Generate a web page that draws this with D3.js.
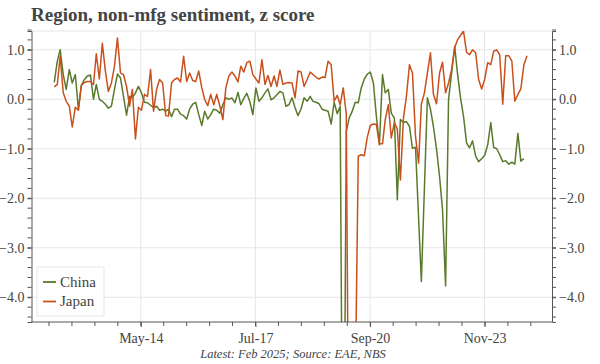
<!DOCTYPE html>
<html>
<head>
<meta charset="utf-8">
<script src="https://cdn.jsdelivr.net/npm/d3@7"></script>
<style>
  html, body { margin: 0; padding: 0; background: #fff; }
  svg { display: block; }
</style>
</head>
<body>
<svg id="chart" width="600" height="364"></svg>
<script>
// ---- data ----
const seriesNames = ["China", "Japan"];
const firstMonth = "2012-01-01";
const lastMonth = "2025-02-01";
const chinaValues = [
  0.34, 0.77, 1.0, 0.5, 0.2, 0.6, 0.33, 0.5, -0.2, 0.28,
  0.4, 0.47, 0.49, 0.0, 0.3, 0.0, -0.04, -0.1, -0.18, -0.14,
  0.2, 0.51, 0.43, 0.06, -0.32, 0.06, 0.03, 0.13, 0.26, 0.13,
  -0.06, -0.07, -0.12, -0.17, -0.14, -0.22, -0.2, -0.24, -0.2, -0.35,
  -0.2, -0.2, -0.3, -0.33, -0.4, -0.2, -0.1, -0.06, -0.31, -0.53,
  -0.24, -0.4, -0.31, -0.2, -0.22, -0.28, -0.11, 0.03, 0.0, 0.03,
  -0.07, 0.14, -0.11, 0.02, 0.12, -0.05, -0.31, 0.23, -0.04, 0.03,
  0.13, 0.21, -0.01, 0.03, 0.09, 0.16, 0.13, -0.14, -0.11, 0.03,
  -0.17, -0.33, -0.19, 0.03, -0.04, 0.06, -0.04, -0.06, -0.09, -0.2,
  -0.22, -0.24, -0.5, -0.06, -0.29, -0.14, -10.0, -0.65, -0.38, -0.24,
  -0.06, -0.07, 0.23, 0.41, 0.51, 0.55, 0.33, -0.34, -0.92, 0.5,
  0.13, 0.2, -0.28, -0.38, -2.03, -0.41, -0.47, -0.45, -0.55, -0.99,
  -0.97, null, -3.68, null, 0.03, -0.2, -0.55, -1.0, -1.56, -2.23,
  -3.77, 0.0, 0.53, 1.07, 0.53, 0.03, -0.34, -0.88, -0.98, -0.84,
  -1.15, -1.26, -1.2, -1.13, -0.92, -0.47, -0.97, -1.0, -1.12, -1.26,
  -1.24, -1.31, -1.27, -1.31, -0.69, -1.25, -1.2
];
const japanValues = [
  0.25, 0.3, 0.87, 0.13, -0.04, -0.14, -0.56, -0.16, -0.22, 0.28,
  0.34, 0.36, 0.36, 0.3, 0.92, 0.41, 1.13, 0.57, 0.16, 0.33,
  0.67, 1.24, 0.53, 0.5, 0.26, -0.14, 0.2, -0.8, -0.16, -0.22,
  0.1, 0.06, 0.6, -0.24, 0.2, 0.4, 0.33, -0.33, -0.34, 0.33,
  0.4, 0.43, 0.35, 0.87, 0.36, 0.53, 0.38, 0.36, 0.57, 0.23,
  0.0, -0.13, 0.1, -0.11, 0.1, -0.13, -0.41, 0.23, 0.47, 0.55,
  0.47, 0.35, 0.67, 0.55, 0.74, 0.77, 0.5, 0.41, 0.33, 0.8,
  0.3, 0.48, 0.26, 0.47, 0.26, 0.59, 0.3, 0.33, 0.34, 0.33,
  0.03, 0.57, 0.55, 0.26, 0.4, 0.55, 0.5, 0.45, 0.41, 0.45,
  0.44, 0.77, 0.7, -0.04, 0.08, -0.11, 0.23, -0.3, -9.0, -9.0,
  -6.0, -1.15, -1.12, -1.14, -0.76, -0.53, -0.5, -0.51, -0.9, -0.9,
  -0.41, -0.11, -0.78, -0.47, -0.6, -1.63, -0.38, 0.06, 0.7, 0.53,
  -0.75, -1.29, -0.1, 0.13, 0.53, 0.94, 0.1, -0.09, 0.53, 0.75,
  0.13, 0.33, 0.6, 1.04, 1.2, 1.29, 1.38, 0.95, 0.9, 1.0,
  0.94, 0.4, 0.21, 0.4, 0.74, 0.7, 0.97, 1.0, 0.9, -0.1,
  0.88, 0.88, 0.77, -0.04, 0.1, 0.21, 0.7, 0.88
];
const seriesColors = ["#5a7a2b", "#c9501c"];
const yTickValues = [1, 0, -1, -2, -3, -4];
const xTickDates = ["2014-05-25", "2017-07-27", "2020-09-28", "2023-11-30"];
const xTickLabels = ["May-14", "Jul-17", "Sep-20", "Nov-23"];
const titleText = "Region, non-mfg sentiment, z score";
const footerText = "Latest: Feb 2025; Source: EAE, NBS";

// ---- layout ----
const W = 600, H = 364;
const plot = { left: 31.5, right: 552, top: 31, bottom: 322 };
const parse = d3.utcParse("%Y-%m-%d");
const months = d3.utcMonth.range(parse(firstMonth), d3.utcMonth.offset(parse(lastMonth), 1));

const x = d3.scaleUtc()
  .domain([parse("2011-05-16"), parse("2025-10-12")])
  .range([plot.left, plot.right]);
const y = d3.scaleLinear().domain([-4.5, 1.38]).range([plot.bottom, plot.top]);

const svg = d3.select("#chart");
const serif = "'Liberation Serif', 'DejaVu Serif', serif";
const axisColor = "#555";
const gridColor = "#e6e6e6";

svg.append("text")
  .attr("x", 31).attr("y", 21)
  .attr("font-family", serif).attr("font-weight", "bold")
  .attr("font-size", 19).attr("fill", "#444")
  .text(titleText);

// clip
svg.append("clipPath").attr("id", "clip")
  .append("rect")
  .attr("x", plot.left).attr("y", plot.top)
  .attr("width", plot.right - plot.left).attr("height", plot.bottom - plot.top);

// grid
const grid = svg.append("g");
grid.selectAll(".hg").data(yTickValues).join("line")
  .attr("x1", plot.left).attr("x2", plot.right)
  .attr("y1", d => y(d)).attr("y2", d => y(d))
  .attr("stroke", gridColor).attr("stroke-width", 1);
grid.selectAll(".vg").data(xTickDates).join("line")
  .attr("x1", d => x(parse(d))).attr("x2", d => x(parse(d)))
  .attr("y1", plot.top).attr("y2", plot.bottom)
  .attr("stroke", gridColor).attr("stroke-width", 1);
grid.append("line")
  .attr("x1", plot.left).attr("x2", plot.right)
  .attr("y1", plot.top).attr("y2", plot.top)
  .attr("stroke", gridColor);

// lines
const series = [chinaValues, japanValues].map((vals, i) => ({
  name: seriesNames[i],
  color: seriesColors[i],
  points: months.map((m, j) => ({ date: m, value: vals[j] })).filter(p => p.value !== null && p.value !== undefined)
}));
const line = d3.line().x(d => x(d.date)).y(d => y(d.value));
const lines = svg.append("g").attr("clip-path", "url(#clip)");
lines.selectAll("path").data(series).join("path")
  .attr("d", d => line(d.points))
  .attr("fill", "none")
  .attr("stroke", d => d.color)
  .attr("stroke-width", 1.5)
  .attr("stroke-linejoin", "round");

// minor tick values
const yMinor = d3.range(-4.4, 1.41, 0.2).map(v => Math.round(v * 10) / 10);
const step = 232;
const xMinor = [];
{
  const first = parse(xTickDates[0]);
  for (let k = -6; k <= 30; k++) {
    const dt = d3.utcDay.offset(first, k * step);
    if (dt >= x.domain()[0] && dt <= x.domain()[1]) xMinor.push(dt);
  }
}

// axes
const yLeft = d3.axisLeft(y).tickValues(yTickValues).tickFormat(d3.format(".1f")).tickSize(4).tickPadding(3);
const gl = svg.append("g").attr("transform", `translate(${plot.left},0)`).call(yLeft);
gl.append("g").selectAll("line").data(yMinor).join("line")
  .attr("x1", -4).attr("x2", 0).attr("y1", d => y(d)).attr("y2", d => y(d)).attr("stroke", axisColor);

const yRight = d3.axisRight(y).tickValues(yTickValues).tickFormat(d3.format(".1f")).tickSize(4).tickPadding(3);
const gr = svg.append("g").attr("transform", `translate(${plot.right},0)`).call(yRight);
gr.append("g").selectAll("line").data(yMinor).join("line")
  .attr("x1", 0).attr("x2", 4).attr("y1", d => y(d)).attr("y2", d => y(d)).attr("stroke", axisColor);

const xAxis = d3.axisBottom(x).tickValues(xTickDates.map(parse))
  .tickFormat((d, i) => xTickLabels[i]).tickSize(5).tickPadding(6);
const gx = svg.append("g").attr("transform", `translate(0,${plot.bottom})`).call(xAxis);
gx.append("g").selectAll("line").data(xMinor).join("line")
  .attr("x1", d => x(d)).attr("x2", d => x(d)).attr("y1", 0).attr("y2", 4).attr("stroke", axisColor);

[gl, gr, gx].forEach(g => {
  g.selectAll(".domain").attr("stroke", axisColor);
  g.selectAll(".tick line").attr("stroke", axisColor);
  g.selectAll("text").attr("font-family", serif).attr("font-size", 14).attr("fill", "#444");
});
gx.selectAll(".domain").attr("d", `M${plot.left},0H${plot.right}`);

// legend
const lg = svg.append("g");
lg.append("rect").attr("x", 37).attr("y", 267).attr("width", 67).attr("height", 49)
  .attr("fill", "#fff").attr("stroke", "#e6e6e6");
series.forEach((s, i) => {
  const yy = 282 + i * 19.5;
  lg.append("line").attr("x1", 43).attr("x2", 56).attr("y1", yy).attr("y2", yy)
    .attr("stroke", s.color).attr("stroke-width", 1.8);
  lg.append("text").attr("x", 60).attr("y", yy + 4.5)
    .attr("font-family", serif).attr("font-size", 15).attr("fill", "#444").text(s.name);
});

// footer
svg.append("text").attr("x", 293).attr("y", 358).attr("text-anchor", "middle")
  .attr("font-family", serif).attr("font-style", "italic").attr("font-size", 12.5).attr("fill", "#444")
  .text(footerText);
</script>
</body>
</html>
